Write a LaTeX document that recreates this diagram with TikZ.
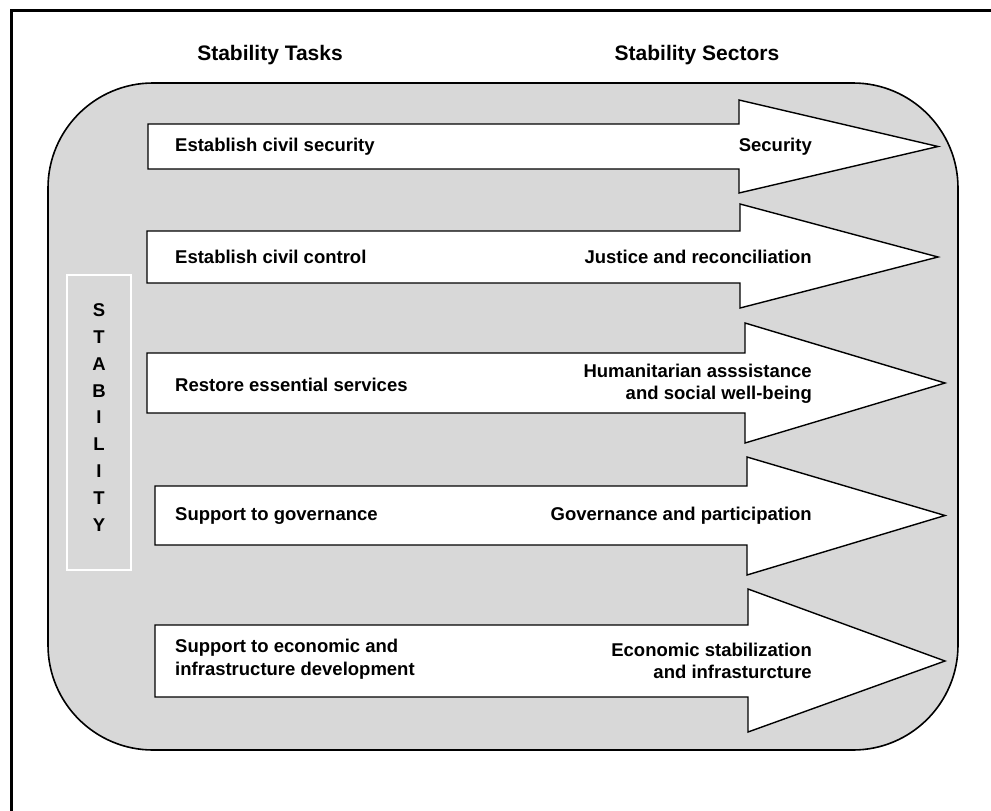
\documentclass[tikz,border=0pt]{standalone}
\usepackage{fontspec}
\setmainfont{Liberation Sans}
\usetikzlibrary{positioning}

\definecolor{panelgray}{HTML}{D8D8D8}

\tikzset{
 panel/.style={draw=black,line width=1.6pt,fill=panelgray,rounded corners=105pt},
 bigarrow/.style={draw=black,line width=1.4pt,fill=white,line join=miter},
 headtext/.style={inner sep=0pt,font=\fontsize{21}{25}\selectfont\bfseries},
 tasktext/.style={anchor=west,inner sep=0pt,align=left,font=\fontsize{18.5}{22.5}\selectfont\bfseries},
 sectortext/.style={anchor=east,inner sep=0pt,align=right,font=\fontsize{18.5}{22.5}\selectfont\bfseries},
 stabtext/.style={inner sep=0pt,align=center,font=\fontsize{18.5}{26.9}\selectfont\bfseries}
}

\begin{document}
\begin{tikzpicture}[x=1pt,y=-1pt]
 \useasboundingbox (0,0) rectangle (991,811);
 \clip (0,0) rectangle (991,811);
 % outer frame (runs off the right and bottom) and grey panel
 \draw[line width=3pt] (11,10) rectangle (1100,900);
 \draw[panel] (48,83) rectangle (958,750);

 % the five arrows
 \draw[bigarrow] (148,124)--(739,124)--(739,100)--(938,146.5)--(739,193)--(739,169)--(148,169)--cycle;
 \draw[bigarrow] (147,231)--(740,231)--(740,204)--(938,257)--(740,308)--(740,283)--(147,283)--cycle;
 \draw[bigarrow] (147,353)--(745,353)--(745,323)--(945,383)--(745,443)--(745,413)--(147,413)--cycle;
 \draw[bigarrow] (155,486)--(747,486)--(747,457)--(945,515.5)--(747,575)--(747,545)--(155,545)--cycle;
 \draw[bigarrow] (155,625)--(748,625)--(748,589)--(945,661)--(748,732)--(748,697)--(155,697)--cycle;

 % headings
 \node[headtext] (taskhead) at (270,55) {Stability Tasks};
 \node[headtext] (sectorhead) at (697,55) {Stability Sectors};

 % tasks (left) and sectors (right)
 \node[tasktext] (task1) at (175,146.5) {Establish civil security};
 \node[sectortext] (sector1) at (812,146.5) {Security};
 \node[tasktext] (task2) at (175,257) {Establish civil control};
 \node[sectortext] (sector2) at (812,257) {Justice and reconciliation};
 \node[tasktext] (task3) at (175,385) {Restore essential services};
 \node[sectortext] (sector3) at (812,384) {Humanitarian asssistance\\and social well-being};
 \node[tasktext] (task4) at (175,515.5) {Support to governance};
 \node[sectortext] (sector4) at (812,515.5) {Governance and participation};
 \node[tasktext] (task5) at (175,659) {Support to economic and\\infrastructure development};
 \node[sectortext] (sector5) at (812,661) {Economic stabilization\\and infrasturcture};

 % vertical STABILITY box
 \draw[white,line width=1.2pt] (67,275) rectangle (131,570);
 \node[stabtext] (stability) at (99,417.5) {S\\T\\A\\B\\I\\L\\I\\T\\Y};
\end{tikzpicture}
\end{document}
